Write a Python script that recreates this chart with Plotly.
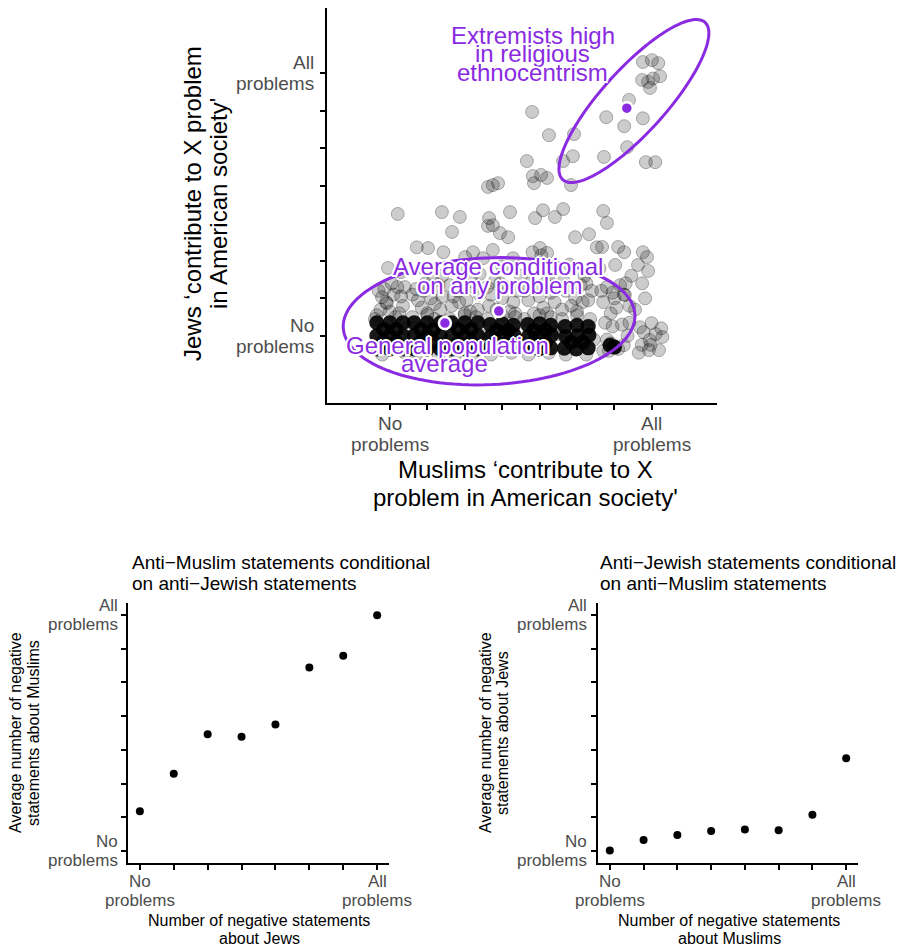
import numpy as np
import plotly.graph_objects as go

# ---------------- data ----------------
# Top panel: individual respondents (jittered positions)
resp_x = [
    6.76, 7.00, 7.17, 6.74, 6.90, 7.03, 7.22, 6.95, 6.39,
    3.80, 5.78, 6.26, 6.76, 4.25, 4.92, 6.34,
    3.66, 4.63, 4.89, 5.72, 6.84, 7.09,
    3.82, 4.04, 4.20, 3.85, 4.84, 2.62, 2.75, 2.89,
    0.21, 1.39, 1.87, 2.65, 3.21, 3.88, 4.09, 4.41, 4.63, 5.70, 5.80,
    2.62, 2.75, 2.94, 3.16, 1.66, 4.95, 5.32, 5.67, 5.53,
    0.72, 1.02, 2.22, 2.75, 2.01, 2.49, 3.29, 4.01, 4.20, 6.10, 6.26, 6.76, 6.87, 6.63, 6.90, 6.02, -0.05, 1.43, 3.81, 4.05,
    0.30, 0.90, 1.40, 1.90, 2.40, 3.00, 3.50, 4.30, 4.80, 5.20, 5.60, 6.45,
    -0.21, -0.08, -0.30, -0.10, 0.20, 0.35, 0.00, -0.25, 0.10, 0.30,
    0.70, 0.85, 1.10, 1.30, 1.35, 0.95, 1.20, 0.75,
    1.65, 1.80, 2.05, 2.25, 2.35, 1.95, 2.15, 1.70,
    2.70, 2.85, 3.10, 3.30, 2.95, 3.20, 2.65,
    3.70, 3.90, 4.10, 4.30, 3.75, 4.20, 4.00,
    4.70, 4.85, 5.10, 5.30, 5.00, 5.25,
    5.70, 5.80, 6.05, 6.25, 6.30, 5.95,
    6.74, 6.82, 6.28, 6.55,
    -0.35, 0.05, 0.25, -0.15, 0.40,
    0.60, 1.00, 1.40, 0.90, 1.15,
    1.60, 2.00, 2.40, 1.85, 2.20,
    2.60, 3.00, 3.40, 2.80, 3.35,
    3.60, 4.40, 3.85, 4.15, 4.40,
    4.60, 4.95, 5.40, 4.65, 5.15,
    5.65, 6.00, 6.40, 5.90, 6.15,
    -0.40, 0.15, 0.40, -0.20, 0.45,
    0.60, 1.20, 1.45, 0.70, 1.30, 1.00,
    1.60, 2.30, 2.45, 1.75, 2.20, 2.00,
    2.60, 3.35, 3.45, 2.70, 3.25, 3.00, 2.55,
    3.60, 4.30, 4.45, 3.70, 4.25, 4.00, 3.55,
    4.60, 5.35, 5.45, 4.70, 5.25, 5.00, 4.55,
    5.75, 5.95, 6.20, 6.35, 5.80, 6.00, 5.90, 6.10, 5.85, 6.25, 6.40, 5.70,
    6.68, 6.99, 7.25, 7.28, 6.94, 6.73, 6.97, 7.19, 6.92, 6.65, 6.78, 7.10,
]
resp_y = [
    7.30, 7.35, 7.27, 6.82, 6.77, 6.86, 6.92, 6.61, 6.29,
    5.97, 5.83, 5.59, 5.80, 5.35, 5.38, 5.03,
    4.66, 4.66, 4.79, 4.77, 4.63, 4.63,
    4.26, 4.29, 4.21, 4.07, 4.02, 3.97, 4.02, 4.07,
    3.25, 3.30, 3.17, 3.14, 3.30, 3.14, 3.35, 3.17, 3.38, 3.33, 3.01,
    2.93, 2.95, 2.74, 2.63, 2.77, 2.63, 2.71, 2.37, 2.36,
    2.36, 2.34, 2.23, 2.29, 2.10, 2.07, 2.07, 2.34, 2.21, 2.37, 2.23, 2.23, 2.10, 1.89, 1.73, 1.89, 1.81, 2.23, 2.23, 2.15,
    1.70, 1.80, 1.60, 1.75, 1.65, 1.85, 1.60, 1.70, 1.90, 1.60, 1.80, 1.60,
    1.03, 0.87, 1.20, 0.90, 1.30, 0.80, 0.65, 0.70, 1.10, 1.05,
    1.25, 0.75, 1.00, 1.35, 0.70, 1.40, 0.85, 0.95,
    0.80, 1.20, 0.95, 1.30, 0.70, 1.40, 0.65, 1.05,
    1.10, 0.70, 1.30, 0.90, 1.40, 0.65, 0.80,
    0.95, 1.30, 0.75, 1.15, 1.40, 0.60, 1.05,
    1.20, 0.80, 1.35, 0.95, 0.65, 1.40,
    0.90, 1.30, 0.75, 1.10, 1.40, 1.15,
    1.40, 1.00, 1.09, 0.70,
    0.55, 1.40, 0.60, 1.25, 1.30,
    1.10, 0.60, 1.05, 1.20, 1.45,
    1.35, 0.60, 1.10, 0.90, 1.45,
    1.30, 1.00, 1.20, 1.45, 0.60,
    1.20, 0.90, 0.60, 1.40, 1.35,
    0.70, 1.00, 1.20, 1.45, 0.90,
    1.20, 1.00, 0.80, 0.60, 1.35,
    0.45, 0.50, -0.45, -0.50, 0.20,
    0.50, 0.45, -0.20, -0.50, -0.50, 0.55,
    0.45, 0.50, 0.00, -0.50, -0.48, 0.55,
    0.45, 0.50, -0.15, -0.50, -0.45, 0.55, -0.10,
    0.45, 0.50, 0.10, -0.50, -0.45, 0.55, -0.20,
    0.45, 0.45, -0.10, -0.50, -0.50, 0.55, 0.05,
    0.35, 0.25, 0.30, 0.00, -0.10, -0.30, -0.20, -0.35, -0.40, -0.25, 0.35, -0.40,
    0.23, 0.34, 0.20, -0.03, -0.11, -0.24, -0.24, -0.38, -0.38, -0.45, 0.10, 0.05,
]

# Saturated (overplotted) cores of the jitter cloud at "no problems" for Jews
core_x = [
    -0.35, 0.00, 0.35, -0.35, 0.00, 0.35, -0.35, 0.00, 0.35, -0.17, 0.17, -0.17, 0.17,
    0.65, 1.00, 1.35, 0.65, 1.00, 1.35, 0.65, 1.00, 1.35, 0.83, 1.17, 0.83, 1.17,
    1.65, 2.00, 2.35, 1.65, 2.00, 2.35, 1.65, 2.00, 2.35, 1.83, 2.17, 1.83, 2.17,
    2.68, 3.00, 3.30, 2.70, 3.02, 3.32, 2.66, 2.98, 3.30, 2.84, 3.16, 2.84, 3.16,
    3.68, 4.00, 4.30, 3.70, 4.02, 4.32, 3.66, 3.98, 4.30, 3.84, 4.16, 3.84, 4.16,
    4.68, 5.00, 5.30, 4.70, 5.02, 5.32, 4.66, 4.98, 5.30, 4.84, 5.16,
    5.88, 6.00,
]
core_y = [
    0.35, 0.35, 0.35, 0.00, 0.00, 0.00, -0.35, -0.35, -0.35, 0.17, 0.17, -0.17, -0.17,
    0.35, 0.35, 0.35, 0.00, 0.00, 0.00, -0.35, -0.35, -0.35, 0.17, 0.17, -0.17, -0.17,
    0.35, 0.35, 0.35, 0.00, 0.00, 0.00, -0.35, -0.35, -0.35, 0.17, 0.17, -0.17, -0.17,
    0.30, 0.32, 0.28, -0.02, 0.00, 0.02, -0.33, -0.35, -0.32, 0.15, 0.15, -0.17, -0.17,
    0.30, 0.32, 0.28, -0.02, 0.00, 0.02, -0.33, -0.35, -0.32, 0.15, 0.15, -0.17, -0.17,
    0.25, 0.28, 0.25, -0.02, 0.00, 0.02, -0.33, -0.35, -0.32, -0.17, -0.17,
    -0.25, -0.30,
]

# Highlighted averages (purple)
mean_x = [1.47, 2.91, 6.33]
mean_y = [0.34, 0.66, 6.07]

# Bottom panels
levels = [0, 1, 2, 3, 4, 5, 6, 7]
muslim_given_jew = [1.18, 2.29, 3.46, 3.39, 3.75, 5.44, 5.79, 6.99]
jew_given_muslim = [0.02, 0.33, 0.48, 0.60, 0.64, 0.62, 1.08, 2.75]

end_labels = [("No", "problems"), ("All", "problems")]

# ellipses: (cx, cy, a, b, angle_deg)
ell_general = (2.65, 0.39, 3.90, 1.69, 2.5)
ell_extreme = (6.52, 6.26, 2.83, 0.85, 47.8)

PURPLE = "#8A2BE2"
FONT = "Liberation Sans, Arial, Helvetica, sans-serif"
GREY = "#4D4D4D"
HALO = ("2px 0 0 white, -2px 0 0 white, 0 2px 0 white, 0 -2px 0 white, "
        "1.5px 1.5px 0 white, -1.5px -1.5px 0 white, 1.5px -1.5px 0 white, -1.5px 1.5px 0 white")

# the page body margin is removed (post_script), so the figure fills the window
W, H = 900, 949


def px(v):
    return v / W


def py(v):
    return 1 - v / H


# panel geometry (window pixels) and axis ranges
TOP = dict(x0=327, x1=717, y0=8, y1=403, xr=[-1.68, 8.74], yr=[-1.79, 8.74])
BL = dict(x0=128, x1=389, y0=603, y1=863, xr=[-0.35, 7.35], yr=[-0.35, 7.35])
BR = dict(x0=598, x1=858, y0=603, y1=863, xr=[-0.35, 7.35], yr=[-0.35, 7.35])


def xpix(p, v):
    return p["x0"] + (v - p["xr"][0]) / (p["xr"][1] - p["xr"][0]) * (p["x1"] - p["x0"])


def ypix(p, v):
    return p["y1"] - (v - p["yr"][0]) / (p["yr"][1] - p["yr"][0]) * (p["y1"] - p["y0"])


fig = go.Figure()

fig.add_trace(go.Scatter(
    x=resp_x, y=resp_y, mode="markers", xaxis="x", yaxis="y",
    marker=dict(size=13, color="rgba(0,0,0,0.2)", line=dict(color="rgba(0,0,0,0.28)", width=1)),
    hoverinfo="skip", showlegend=False))
fig.add_trace(go.Scatter(
    x=core_x, y=core_y, mode="markers", xaxis="x", yaxis="y",
    marker=dict(size=15, color="rgba(0,0,0,0.9)", line=dict(width=0)),
    hoverinfo="skip", showlegend=False))
fig.add_trace(go.Scatter(
    x=mean_x, y=mean_y, mode="markers", xaxis="x", yaxis="y",
    marker=dict(size=12, color=PURPLE, line=dict(color="white", width=2.5)),
    hoverinfo="skip", showlegend=False))

fig.add_trace(go.Scatter(
    x=levels, y=muslim_given_jew, mode="markers", xaxis="x2", yaxis="y2",
    marker=dict(size=8, color="black"), showlegend=False))
fig.add_trace(go.Scatter(
    x=levels, y=jew_given_muslim, mode="markers", xaxis="x3", yaxis="y3",
    marker=dict(size=8, color="black"), showlegend=False))


def ellipse_path(cx, cy, a, b, ang):
    t = np.linspace(0, 2 * np.pi, 121)
    th = np.deg2rad(ang)
    xs = cx + a * np.cos(t) * np.cos(th) - b * np.sin(t) * np.sin(th)
    ys = cy + a * np.cos(t) * np.sin(th) + b * np.sin(t) * np.cos(th)
    pts = " L ".join(f"{x:.4f},{y:.4f}" for x, y in zip(xs, ys))
    return "M " + pts + " Z"


for e in (ell_general, ell_extreme):
    fig.add_shape(type="path", path=ellipse_path(*e), xref="x", yref="y",
                  line=dict(color=PURPLE, width=3), fillcolor="rgba(0,0,0,0)")


def axes(p, lw):
    common = dict(tickvals=levels, ticktext=[""] * 8, ticks="outside", ticklen=5, tickwidth=1.5,
                  tickcolor="black", showline=True, linecolor="black", linewidth=lw,
                  showgrid=False, zeroline=False, fixedrange=True)
    xa = dict(domain=[px(p["x0"]), px(p["x1"])], range=p["xr"], **common)
    ya = dict(domain=[py(p["y1"]), py(p["y0"])], range=p["yr"], **common)
    return xa, ya


x1a, y1a = axes(TOP, 2)
x2a, y2a = axes(BL, 1.5)
x3a, y3a = axes(BR, 1.5)
x1a["anchor"], y1a["anchor"] = "y", "x"
x2a["anchor"], y2a["anchor"] = "y2", "x2"
x3a["anchor"], y3a["anchor"] = "y3", "x3"

fig.update_layout(
    width=W, height=H, margin=dict(l=0, r=0, t=0, b=0, autoexpand=False),
    paper_bgcolor="white", plot_bgcolor="white",
    font=dict(family=FONT, color="black"),
    xaxis=x1a, yaxis=y1a, xaxis2=x2a, yaxis2=y2a, xaxis3=x3a, yaxis3=y3a,
)

anns = []


def paper_text(text, x, y, size, xanchor="center", angle=0, color="black"):
    anns.append(dict(text=text, x=px(x), y=py(y), xref="paper", yref="paper",
                     xanchor=xanchor, yanchor="middle", textangle=angle, showarrow=False,
                     font=dict(size=size, color=color, family=FONT)))


def data_text(text, x, y):
    anns.append(dict(text=text, x=x, y=y, xref="x", yref="y", xanchor="center", yanchor="middle",
                     showarrow=False, font=dict(size=24, color=PURPLE, family=FONT, shadow=HALO)))


# tick labels (two tight lines each), placed at the axis ticks
def tick_labels(p, size, line_gap, xgap, ygap):
    for v, (l1, l2) in zip([levels[0], levels[-1]], end_labels):
        cx = xpix(p, v)
        top = p["y1"] + xgap
        paper_text(l1, cx, top, size, color=GREY)
        paper_text(l2, cx, top + line_gap, size, color=GREY)
        cy = ypix(p, v)
        rx = p["x0"] - ygap
        paper_text(l1, rx, cy - line_gap / 2, size, xanchor="right", color=GREY)
        paper_text(l2, rx, cy + line_gap / 2, size, xanchor="right", color=GREY)


tick_labels(TOP, 19, 21, 20, 11)
tick_labels(BL, 17, 19, 18, 8)
tick_labels(BR, 17, 19, 18, 9)

# top axis titles
paper_text("Muslims ‘contribute to X", 525, 470, 24)
paper_text("problem in American society'", 525, 497, 24)
paper_text("Jews ‘contribute to X problem", 192, 204, 24, angle=-90)
paper_text("in American society'", 218, 204, 24, angle=-90)

# group labels
data_text("Extremists high", 3.82, 8.02)
data_text("in religious", 3.82, 7.54)
data_text("ethnocentrism", 3.82, 7.03)
data_text("Average conditional", 2.89, 1.86)
data_text("on any problem", 2.94, 1.35)
data_text("General population", 1.54, -0.25)
data_text("average", 1.47, -0.73)

# bottom titles
paper_text("Anti−Muslim statements conditional", 130, 562, 19, xanchor="left")
paper_text("on anti−Jewish statements", 130, 583, 19, xanchor="left")
paper_text("Anti−Jewish statements conditional", 598, 562, 19, xanchor="left")
paper_text("on anti−Muslim statements", 598, 583, 19, xanchor="left")

# bottom axis titles
paper_text("Number of negative statements", 259, 920, 16)
paper_text("about Jews", 259, 938, 16)
paper_text("Number of negative statements", 729, 920, 16)
paper_text("about Muslims", 729, 938, 16)
paper_text("Average number of negative", 15, 733, 16, angle=-90)
paper_text("statements about Muslims", 33, 733, 16, angle=-90)
paper_text("Average number of negative", 485, 733, 16, angle=-90)
paper_text("statements about Jews", 502, 733, 16, angle=-90)

fig.update_layout(annotations=anns)

fig.write_html(
    "out.html",
    config={"displayModeBar": False},
    post_script="document.body.style.margin='0';document.body.style.overflow='hidden';",
)
